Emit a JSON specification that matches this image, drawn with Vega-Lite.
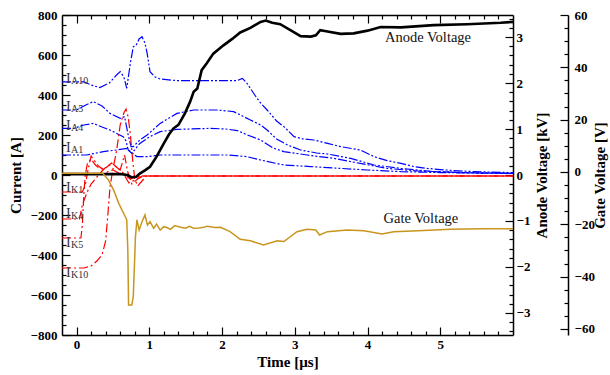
{
  "$schema": "https://vega.github.io/schema/vega-lite/v6.json",
  "width": 451,
  "height": 320,
  "autosize": {"type": "none"},
  "padding": {"left": 62, "top": 15, "right": 97, "bottom": 40},
  "config": {
    "view": {"stroke": null},
    "font": "Liberation Serif",
    "text": {"font": "Liberation Serif"},
    "axis": {
      "grid": false,
      "domainColor": "black",
      "tickColor": "black",
      "labelColor": "black",
      "titleColor": "black",
      "labelFont": "Liberation Serif",
      "titleFont": "Liberation Serif",
      "labelFontWeight": "bold",
      "titleFontWeight": "bold",
      "labelFontSize": 13,
      "titleFontSize": 15,
      "domainWidth": 1.5,
      "tickWidth": 1.2
    }
  },
  "datasets": {
    "current": [
      {"s":"IA10","type":"A","t":-0.2,"amp":466},{"s":"IA10","type":"A","t":0.1,"amp":466},{"s":"IA10","type":"A","t":0.2,"amp":450},{"s":"IA10","type":"A","t":0.32,"amp":437},{"s":"IA10","type":"A","t":0.45,"amp":460},{"s":"IA10","type":"A","t":0.55,"amp":500},{"s":"IA10","type":"A","t":0.6,"amp":517},{"s":"IA10","type":"A","t":0.65,"amp":490},{"s":"IA10","type":"A","t":0.69,"amp":433},{"s":"IA10","type":"A","t":0.74,"amp":560},{"s":"IA10","type":"A","t":0.78,"amp":641},{"s":"IA10","type":"A","t":0.82,"amp":650},{"s":"IA10","type":"A","t":0.86,"amp":680},{"s":"IA10","type":"A","t":0.9,"amp":691},{"s":"IA10","type":"A","t":0.94,"amp":660},{"s":"IA10","type":"A","t":0.97,"amp":610},{"s":"IA10","type":"A","t":1.01,"amp":517},{"s":"IA10","type":"A","t":1.08,"amp":490},{"s":"IA10","type":"A","t":1.15,"amp":480},{"s":"IA10","type":"A","t":1.38,"amp":472},{"s":"IA10","type":"A","t":1.84,"amp":472},{"s":"IA10","type":"A","t":2.21,"amp":472},{"s":"IA10","type":"A","t":2.28,"amp":483},{"s":"IA10","type":"A","t":2.34,"amp":460},{"s":"IA10","type":"A","t":2.45,"amp":400},{"s":"IA10","type":"A","t":2.53,"amp":360},{"s":"IA10","type":"A","t":2.62,"amp":325},{"s":"IA10","type":"A","t":2.75,"amp":270},{"s":"IA10","type":"A","t":2.85,"amp":242},{"s":"IA10","type":"A","t":2.99,"amp":192},{"s":"IA10","type":"A","t":3.12,"amp":180},{"s":"IA10","type":"A","t":3.26,"amp":175},{"s":"IA10","type":"A","t":3.45,"amp":158},{"s":"IA10","type":"A","t":3.63,"amp":142},{"s":"IA10","type":"A","t":3.9,"amp":125},{"s":"IA10","type":"A","t":4.09,"amp":92},{"s":"IA10","type":"A","t":4.27,"amp":72},{"s":"IA10","type":"A","t":4.46,"amp":58},{"s":"IA10","type":"A","t":4.64,"amp":42},{"s":"IA10","type":"A","t":4.82,"amp":33},{"s":"IA10","type":"A","t":5.0,"amp":27},{"s":"IA10","type":"A","t":5.19,"amp":22},{"s":"IA10","type":"A","t":5.4,"amp":18},{"s":"IA10","type":"A","t":5.65,"amp":15},{"s":"IA10","type":"A","t":6.0,"amp":12},
      {"s":"IA5","type":"A","t":-0.2,"amp":325},{"s":"IA5","type":"A","t":0.0,"amp":325},{"s":"IA5","type":"A","t":0.1,"amp":345},{"s":"IA5","type":"A","t":0.23,"amp":367},{"s":"IA5","type":"A","t":0.35,"amp":345},{"s":"IA5","type":"A","t":0.46,"amp":308},{"s":"IA5","type":"A","t":0.6,"amp":283},{"s":"IA5","type":"A","t":0.66,"amp":292},{"s":"IA5","type":"A","t":0.71,"amp":200},{"s":"IA5","type":"A","t":0.75,"amp":142},{"s":"IA5","type":"A","t":0.78,"amp":142},{"s":"IA5","type":"A","t":0.87,"amp":175},{"s":"IA5","type":"A","t":0.97,"amp":200},{"s":"IA5","type":"A","t":1.15,"amp":258},{"s":"IA5","type":"A","t":1.38,"amp":308},{"s":"IA5","type":"A","t":1.61,"amp":325},{"s":"IA5","type":"A","t":1.93,"amp":325},{"s":"IA5","type":"A","t":2.16,"amp":317},{"s":"IA5","type":"A","t":2.39,"amp":275},{"s":"IA5","type":"A","t":2.53,"amp":250},{"s":"IA5","type":"A","t":2.62,"amp":225},{"s":"IA5","type":"A","t":2.75,"amp":180},{"s":"IA5","type":"A","t":2.9,"amp":150},{"s":"IA5","type":"A","t":3.08,"amp":125},{"s":"IA5","type":"A","t":3.3,"amp":110},{"s":"IA5","type":"A","t":3.45,"amp":105},{"s":"IA5","type":"A","t":3.77,"amp":83},{"s":"IA5","type":"A","t":4.09,"amp":50},{"s":"IA5","type":"A","t":4.46,"amp":33},{"s":"IA5","type":"A","t":4.91,"amp":17},{"s":"IA5","type":"A","t":5.5,"amp":10},{"s":"IA5","type":"A","t":6.0,"amp":8},
      {"s":"IA4","type":"A","t":-0.2,"amp":233},{"s":"IA4","type":"A","t":-0.04,"amp":233},{"s":"IA4","type":"A","t":0.1,"amp":250},{"s":"IA4","type":"A","t":0.23,"amp":258},{"s":"IA4","type":"A","t":0.35,"amp":240},{"s":"IA4","type":"A","t":0.46,"amp":225},{"s":"IA4","type":"A","t":0.64,"amp":192},{"s":"IA4","type":"A","t":0.68,"amp":170},{"s":"IA4","type":"A","t":0.71,"amp":125},{"s":"IA4","type":"A","t":0.76,"amp":108},{"s":"IA4","type":"A","t":0.87,"amp":158},{"s":"IA4","type":"A","t":1.01,"amp":192},{"s":"IA4","type":"A","t":1.15,"amp":217},{"s":"IA4","type":"A","t":1.38,"amp":228},{"s":"IA4","type":"A","t":1.84,"amp":233},{"s":"IA4","type":"A","t":2.05,"amp":230},{"s":"IA4","type":"A","t":2.21,"amp":222},{"s":"IA4","type":"A","t":2.35,"amp":200},{"s":"IA4","type":"A","t":2.53,"amp":175},{"s":"IA4","type":"A","t":2.7,"amp":135},{"s":"IA4","type":"A","t":2.85,"amp":117},{"s":"IA4","type":"A","t":3.17,"amp":100},{"s":"IA4","type":"A","t":3.54,"amp":83},{"s":"IA4","type":"A","t":3.9,"amp":58},{"s":"IA4","type":"A","t":4.27,"amp":33},{"s":"IA4","type":"A","t":4.69,"amp":20},{"s":"IA4","type":"A","t":5.3,"amp":12},{"s":"IA4","type":"A","t":6.0,"amp":8},
      {"s":"IA1","type":"A","t":-0.2,"amp":100},{"s":"IA1","type":"A","t":0.14,"amp":100},{"s":"IA1","type":"A","t":0.37,"amp":117},{"s":"IA1","type":"A","t":0.55,"amp":125},{"s":"IA1","type":"A","t":0.69,"amp":133},{"s":"IA1","type":"A","t":0.74,"amp":117},{"s":"IA1","type":"A","t":0.83,"amp":92},{"s":"IA1","type":"A","t":0.97,"amp":92},{"s":"IA1","type":"A","t":1.15,"amp":100},{"s":"IA1","type":"A","t":2.07,"amp":100},{"s":"IA1","type":"A","t":2.34,"amp":92},{"s":"IA1","type":"A","t":2.53,"amp":75},{"s":"IA1","type":"A","t":2.85,"amp":50},{"s":"IA1","type":"A","t":3.22,"amp":42},{"s":"IA1","type":"A","t":3.63,"amp":33},{"s":"IA1","type":"A","t":4.0,"amp":25},{"s":"IA1","type":"A","t":4.46,"amp":17},{"s":"IA1","type":"A","t":5.0,"amp":12},{"s":"IA1","type":"A","t":6.0,"amp":8},
      {"s":"IK1","type":"K","t":-0.2,"amp":-85},{"s":"IK1","type":"K","t":0.08,"amp":-85},{"s":"IK1","type":"K","t":0.12,"amp":-50},{"s":"IK1","type":"K","t":0.16,"amp":30},{"s":"IK1","type":"K","t":0.2,"amp":95},{"s":"IK1","type":"K","t":0.25,"amp":70},{"s":"IK1","type":"K","t":0.3,"amp":45},{"s":"IK1","type":"K","t":0.36,"amp":30},{"s":"IK1","type":"K","t":0.42,"amp":15},{"s":"IK1","type":"K","t":0.5,"amp":25},{"s":"IK1","type":"K","t":0.58,"amp":10},{"s":"IK1","type":"K","t":0.66,"amp":0},{"s":"IK1","type":"K","t":0.74,"amp":-20},{"s":"IK1","type":"K","t":0.8,"amp":-10},{"s":"IK1","type":"K","t":0.9,"amp":-5},{"s":"IK1","type":"K","t":6.0,"amp":-5},
      {"s":"IK4","type":"K","t":-0.2,"amp":-220},{"s":"IK4","type":"K","t":0.04,"amp":-220},{"s":"IK4","type":"K","t":0.08,"amp":-150},{"s":"IK4","type":"K","t":0.14,"amp":-90},{"s":"IK4","type":"K","t":0.2,"amp":-45},{"s":"IK4","type":"K","t":0.28,"amp":-10},{"s":"IK4","type":"K","t":0.35,"amp":20},{"s":"IK4","type":"K","t":0.42,"amp":45},{"s":"IK4","type":"K","t":0.5,"amp":55},{"s":"IK4","type":"K","t":0.58,"amp":30},{"s":"IK4","type":"K","t":0.64,"amp":10},{"s":"IK4","type":"K","t":0.72,"amp":-40},{"s":"IK4","type":"K","t":0.8,"amp":-25},{"s":"IK4","type":"K","t":0.9,"amp":-5},{"s":"IK4","type":"K","t":6.0,"amp":-5},
      {"s":"IK5","type":"K","t":-0.2,"amp":-315},{"s":"IK5","type":"K","t":0.06,"amp":-315},{"s":"IK5","type":"K","t":0.08,"amp":-250},{"s":"IK5","type":"K","t":0.1,"amp":-100},{"s":"IK5","type":"K","t":0.12,"amp":0},{"s":"IK5","type":"K","t":0.15,"amp":60},{"s":"IK5","type":"K","t":0.2,"amp":80},{"s":"IK5","type":"K","t":0.26,"amp":50},{"s":"IK5","type":"K","t":0.32,"amp":30},{"s":"IK5","type":"K","t":0.4,"amp":35},{"s":"IK5","type":"K","t":0.48,"amp":60},{"s":"IK5","type":"K","t":0.55,"amp":40},{"s":"IK5","type":"K","t":0.6,"amp":25},{"s":"IK5","type":"K","t":0.66,"amp":100},{"s":"IK5","type":"K","t":0.7,"amp":20},{"s":"IK5","type":"K","t":0.76,"amp":-45},{"s":"IK5","type":"K","t":0.84,"amp":-20},{"s":"IK5","type":"K","t":0.92,"amp":-5},{"s":"IK5","type":"K","t":6.0,"amp":-5},
      {"s":"IK10","type":"K","t":-0.2,"amp":-465},{"s":"IK10","type":"K","t":0.1,"amp":-465},{"s":"IK10","type":"K","t":0.2,"amp":-455},{"s":"IK10","type":"K","t":0.28,"amp":-430},{"s":"IK10","type":"K","t":0.35,"amp":-400},{"s":"IK10","type":"K","t":0.4,"amp":-330},{"s":"IK10","type":"K","t":0.43,"amp":-200},{"s":"IK10","type":"K","t":0.46,"amp":-60},{"s":"IK10","type":"K","t":0.5,"amp":30},{"s":"IK10","type":"K","t":0.55,"amp":120},{"s":"IK10","type":"K","t":0.6,"amp":250},{"s":"IK10","type":"K","t":0.65,"amp":310},{"s":"IK10","type":"K","t":0.68,"amp":330},{"s":"IK10","type":"K","t":0.71,"amp":290},{"s":"IK10","type":"K","t":0.74,"amp":200},{"s":"IK10","type":"K","t":0.77,"amp":80},{"s":"IK10","type":"K","t":0.8,"amp":-20},{"s":"IK10","type":"K","t":0.84,"amp":-55},{"s":"IK10","type":"K","t":0.9,"amp":-30},{"s":"IK10","type":"K","t":0.96,"amp":-5},{"s":"IK10","type":"K","t":6.0,"amp":-5}
    ],
    "labels": [
      {"t":-0.145,"amp":458,"sub":"A10"},{"t":-0.145,"amp":322,"sub":"A5"},{"t":-0.145,"amp":225,"sub":"A4"},{"t":-0.145,"amp":117,"sub":"A1"},
      {"t":-0.145,"amp":-83,"sub":"K1"},{"t":-0.145,"amp":-217,"sub":"K4"},{"t":-0.145,"amp":-362,"sub":"K5"},{"t":-0.145,"amp":-510,"sub":"K10"}
    ],
    "anode": [
      {"t":-0.2,"kv":0.02},{"t":0.6,"kv":0.02},{"t":0.7,"kv":0.0},{"t":0.76,"kv":-0.05},{"t":0.82,"kv":-0.04},{"t":0.87,"kv":0.03},{"t":0.94,"kv":0.1},{"t":1.01,"kv":0.18},{"t":1.1,"kv":0.4},{"t":1.2,"kv":0.69},{"t":1.27,"kv":0.88},{"t":1.33,"kv":1.01},{"t":1.4,"kv":1.09},{"t":1.49,"kv":1.34},{"t":1.56,"kv":1.59},{"t":1.61,"kv":1.81},{"t":1.66,"kv":1.88},{"t":1.72,"kv":2.28},{"t":1.79,"kv":2.43},{"t":1.88,"kv":2.64},{"t":2.02,"kv":2.82},{"t":2.14,"kv":2.96},{"t":2.25,"kv":3.1},{"t":2.39,"kv":3.2},{"t":2.53,"kv":3.33},{"t":2.6,"kv":3.36},{"t":2.69,"kv":3.31},{"t":2.8,"kv":3.28},{"t":2.94,"kv":3.15},{"t":3.08,"kv":3.02},{"t":3.22,"kv":3.01},{"t":3.29,"kv":3.04},{"t":3.35,"kv":3.15},{"t":3.45,"kv":3.12},{"t":3.63,"kv":3.07},{"t":3.81,"kv":3.08},{"t":4.0,"kv":3.14},{"t":4.18,"kv":3.22},{"t":4.46,"kv":3.21},{"t":4.91,"kv":3.26},{"t":5.37,"kv":3.28},{"t":5.83,"kv":3.31},{"t":6.0,"kv":3.33}
    ],
    "gate": [
      {"t":-0.2,"v":-0.5},{"t":0.36,"v":-0.5},{"t":0.44,"v":-3.1},{"t":0.51,"v":-6.9},{"t":0.58,"v":-12.0},{"t":0.67,"v":-17.1},{"t":0.69,"v":-18.3},{"t":0.705,"v":-29.8},{"t":0.715,"v":-50.8},{"t":0.76,"v":-50.8},{"t":0.78,"v":-47.6},{"t":0.81,"v":-24.7},{"t":0.83,"v":-18.3},{"t":0.86,"v":-22.2},{"t":0.9,"v":-19.0},{"t":0.94,"v":-16.4},{"t":0.975,"v":-20.3},{"t":1.01,"v":-19.0},{"t":1.06,"v":-21.5},{"t":1.1,"v":-19.9},{"t":1.15,"v":-22.2},{"t":1.2,"v":-20.9},{"t":1.25,"v":-21.3},{"t":1.29,"v":-21.9},{"t":1.35,"v":-20.5},{"t":1.43,"v":-21.1},{"t":1.5,"v":-21.5},{"t":1.55,"v":-20.8},{"t":1.61,"v":-21.5},{"t":1.68,"v":-21.4},{"t":1.75,"v":-21.1},{"t":1.8,"v":-20.7},{"t":1.9,"v":-21.2},{"t":1.98,"v":-21.1},{"t":2.11,"v":-22.8},{"t":2.25,"v":-25.7},{"t":2.39,"v":-26.3},{"t":2.57,"v":-27.9},{"t":2.76,"v":-26.3},{"t":2.85,"v":-26.6},{"t":3.03,"v":-22.8},{"t":3.17,"v":-21.9},{"t":3.29,"v":-22.2},{"t":3.34,"v":-24.1},{"t":3.45,"v":-22.8},{"t":3.72,"v":-22.2},{"t":3.95,"v":-22.5},{"t":4.2,"v":-23.7},{"t":4.36,"v":-22.8},{"t":4.69,"v":-22.5},{"t":5.14,"v":-21.9},{"t":5.6,"v":-21.7},{"t":6.0,"v":-21.7}
    ],
    "anodeNote": [{"t":4.24,"kv":2.98,"txt":"Anode Voltage"}],
    "gateNote": [{"t":4.22,"v":-18,"txt":"Gate Voltage"}]
  },
  "resolve": {"scale": {"y": "independent"}, "axis": {"x": "independent", "y": "independent"}},
  "layer": [
    {
      "data": {"name": "current"},
      "mark": {"type": "line", "strokeWidth": 1.2},
      "encoding": {
        "x": {"field": "t", "type": "quantitative", "scale": {"domain": [-0.2, 6], "nice": false, "zero": false},
          "axis": {"orient": "bottom", "values": [0,1,2,3,4,5], "tickSize": -8, "labelPadding": 11, "title": "Time [µs]", "titlePadding": 3}},
        "y": {"field": "amp", "type": "quantitative", "scale": {"domain": [-800, 800], "nice": false, "zero": false},
          "axis": {"orient": "left", "values": [-800,-600,-400,-200,0,200,400,600,800], "tickSize": -8, "labelPadding": 13, "title": "Current [A]", "titlePadding": 7}},
        "color": {"field": "type", "type": "nominal", "scale": {"domain": ["A","K"], "range": ["#0000FF","#FF0000"]}, "legend": null},
        "strokeDash": {"field": "type", "type": "nominal", "scale": {"domain": ["A","K"], "range": [[9,2,2,2,2,2],[9,3,2,3]]}, "legend": null},
        "detail": {"field": "s"}
      }
    },
    {
      "data": {"name": "labels"},
      "mark": {"type": "text", "align": "left", "baseline": "alphabetic", "fontSize": 14, "font": "Liberation Serif", "color": "#333333"},
      "encoding": {
        "x": {"field": "t", "type": "quantitative", "scale": {"domain": [-0.2, 6], "nice": false, "zero": false},
          "axis": {"orient": "top", "values": [0,1,2,3,4,5], "tickSize": -8, "labels": false, "title": null}},
        "y": {"field": "amp", "type": "quantitative", "scale": {"domain": [-800, 800], "nice": false, "zero": false},
          "axis": {"orient": "left", "values": [-750,-700,-650,-550,-500,-450,-350,-300,-250,-150,-100,-50,50,100,150,250,300,350,450,500,550,650,700,750], "tickSize": -4, "labels": false, "domain": false, "title": null}},
        "text": {"value": "I"}
      }
    },
    {
      "data": {"name": "labels"},
      "mark": {"type": "text", "align": "left", "baseline": "alphabetic", "fontSize": 10, "dx": 5, "dy": 1, "font": "Liberation Serif", "color": "#333333"},
      "encoding": {
        "x": {"field": "t", "type": "quantitative", "scale": {"domain": [-0.2, 6], "nice": false, "zero": false},
          "axis": {"orient": "bottom", "values": [0.2,0.4,0.6,0.8,1.2,1.4,1.6,1.8,2.2,2.4,2.6,2.8,3.2,3.4,3.6,3.8,4.2,4.4,4.6,4.8,5.2,5.4,5.6,5.8], "tickSize": -4, "labels": false, "domain": false, "title": null}},
        "y": {"field": "amp", "type": "quantitative", "scale": {"domain": [-800, 800], "nice": false, "zero": false}, "axis": null},
        "text": {"field": "sub"}
      }
    },
    {
      "data": {"name": "anode"},
      "mark": {"type": "line", "strokeWidth": 2.6, "color": "black"},
      "encoding": {
        "x": {"field": "t", "type": "quantitative", "scale": {"domain": [-0.2, 6], "nice": false, "zero": false}, "axis": null},
        "y": {"field": "kv", "type": "quantitative", "scale": {"domain": [-3.48, 3.48], "nice": false, "zero": false},
          "axis": {"orient": "right", "values": [-3,-2,-1,0,1,2,3], "tickSize": -8, "labelPadding": 11, "title": "Anode Voltage [kV]", "titleAngle": 270, "titlePadding": 20}}
      }
    },
    {
      "data": {"name": "anodeNote"},
      "mark": {"type": "text", "align": "left", "baseline": "middle", "fontSize": 14.5, "font": "Liberation Serif", "color": "#111111"},
      "encoding": {
        "x": {"field": "t", "type": "quantitative", "scale": {"domain": [-0.2, 6], "nice": false, "zero": false},
          "axis": {"orient": "top", "values": [0.2,0.4,0.6,0.8,1.2,1.4,1.6,1.8,2.2,2.4,2.6,2.8,3.2,3.4,3.6,3.8,4.2,4.4,4.6,4.8,5.2,5.4,5.6,5.8], "tickSize": -4, "labels": false, "domain": false, "title": null}},
        "y": {"field": "kv", "type": "quantitative", "scale": {"domain": [-3.48, 3.48], "nice": false, "zero": false},
          "axis": {"orient": "right", "values": [-3.4,-3.2,-2.8,-2.6,-2.4,-2.2,-1.8,-1.6,-1.4,-1.2,-0.8,-0.6,-0.4,-0.2,0.2,0.4,0.6,0.8,1.2,1.4,1.6,1.8,2.2,2.4,2.6,2.8,3.2,3.4], "tickSize": -4, "labels": false, "domain": false, "title": null}},
        "text": {"field": "txt"}
      }
    },
    {
      "data": {"name": "gate"},
      "mark": {"type": "line", "strokeWidth": 1.5, "color": "#C8961E"},
      "encoding": {
        "x": {"field": "t", "type": "quantitative", "scale": {"domain": [-0.2, 6], "nice": false, "zero": false}, "axis": null},
        "y": {"field": "v", "type": "quantitative", "scale": {"domain": [-62.3, 60], "nice": false, "zero": false},
          "axis": {"orient": "right", "offset": 55, "values": [-60,-40,-20,0,20,40,60], "tickSize": -8, "labelPadding": 14, "title": "Gate Voltage [V]", "titleAngle": 270, "titlePadding": 13}}
      }
    },
    {
      "data": {"name": "gateNote"},
      "mark": {"type": "text", "align": "left", "baseline": "middle", "fontSize": 14.5, "font": "Liberation Serif", "color": "#111111"},
      "encoding": {
        "x": {"field": "t", "type": "quantitative", "scale": {"domain": [-0.2, 6], "nice": false, "zero": false}, "axis": null},
        "y": {"field": "v", "type": "quantitative", "scale": {"domain": [-62.3, 60], "nice": false, "zero": false},
          "axis": {"orient": "right", "offset": 55, "values": [-55,-50,-45,-35,-30,-25,-15,-10,-5,5,10,15,25,30,35,45,50,55], "tickSize": -4, "labels": false, "domain": false, "title": null}},
        "text": {"field": "txt"}
      }
    }
  ]
}
